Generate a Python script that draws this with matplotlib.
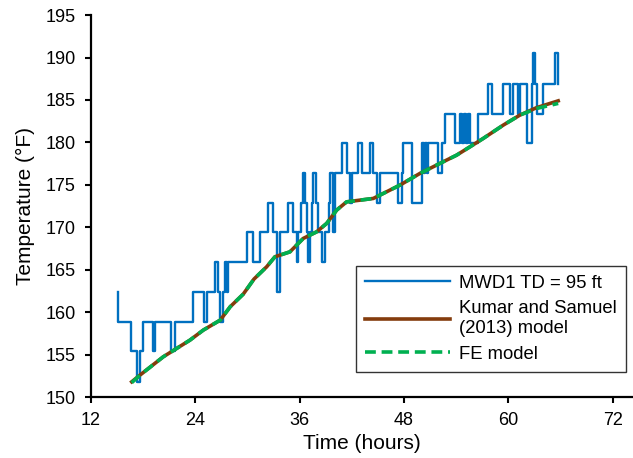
import matplotlib
matplotlib.use("Agg")
import matplotlib.pyplot as plt

plt.rcParams['font.family'] = ['Liberation Sans', 'DejaVu Sans']

# MWD1 measured temperature (step trace), time in hours, temperature in F
mwd_time = [15.12, 15.19, 16.65, 17.30, 17.68, 18.06, 19.14, 19.44, 21.24, 21.70,
            23.80, 25.03, 25.34, 26.29, 26.67, 26.87, 27.25, 27.44, 27.64, 27.82,
            29.93, 30.69, 31.46, 32.41, 32.99, 33.38, 33.76, 34.71, 35.28, 35.67,
            35.86, 36.20, 36.40, 36.63, 36.82, 37.01, 37.20, 37.43, 37.58, 37.89,
            38.15, 38.54, 38.92, 39.38, 39.50, 39.81, 39.88, 40.07, 40.84, 41.41,
            41.79, 41.99, 42.75, 43.14, 44.09, 44.47, 44.86, 45.24, 47.34, 47.73,
            47.91, 48.88, 50.02, 50.29, 50.46, 50.63, 50.81, 51.90, 52.32, 52.70,
            53.85, 54.42, 54.65, 54.88, 55.11, 55.34, 55.57, 56.52, 57.67, 58.06,
            59.39, 60.16, 60.54, 61.12, 61.31, 62.08, 62.65, 62.84, 63.03, 63.23,
            63.99, 65.33, 65.71]
mwd_temp = [162.4, 158.9, 155.4, 151.8, 155.4, 158.9, 155.4, 158.9, 155.4, 158.9,
            162.4, 158.9, 162.4, 165.9, 162.4, 158.9, 162.4, 165.9, 162.4, 165.9,
            169.4, 165.9, 169.4, 172.9, 169.4, 162.4, 169.4, 172.9, 169.4, 165.9,
            169.4, 172.9, 176.4, 172.9, 169.4, 165.9, 169.4, 172.9, 176.4, 172.9,
            169.4, 165.9, 169.4, 172.9, 176.4, 172.9, 169.4, 176.4, 179.9, 176.4,
            172.9, 176.4, 179.9, 176.4, 179.9, 176.4, 172.9, 176.4, 172.9, 176.4,
            179.9, 172.9, 179.9, 176.4, 179.9, 176.4, 179.9, 176.4, 179.9, 183.4,
            179.9, 183.4, 179.9, 183.4, 179.9, 183.4, 179.9, 183.4, 186.9, 183.4,
            186.9, 183.4, 186.9, 183.4, 186.9, 179.9, 186.9, 190.5, 186.9, 183.4,
            186.9, 190.5, 186.9]

# Kumar and Samuel (2013) model
ks_time = [16.73, 17.68, 20.36, 23.42, 24.95, 26.90, 28.04, 29.54, 30.77, 32.23,
           33.18, 34.90, 36.43, 37.97, 39.12, 40.27, 41.41, 44.47, 46.38, 47.53,
           49.83, 52.13, 54.04, 55.57, 57.10, 59.40, 61.31, 63.23, 65.71]
ks_temp = [151.80, 152.59, 154.75, 156.71, 157.89, 159.07, 160.64, 162.13, 163.90, 165.35,
           166.53, 167.11, 168.69, 169.47, 170.46, 172.03, 173.00, 173.40, 174.38, 174.97,
           176.35, 177.53, 178.50, 179.48, 180.47, 182.04, 183.22, 184.10, 184.90]

# FE model
fe_time = [16.73, 17.68, 20.36, 23.42, 24.95, 26.90, 28.04, 29.54, 30.77, 32.23,
           33.18, 34.90, 36.43, 37.97, 39.12, 40.27, 41.41, 44.47, 46.38, 47.53,
           49.83, 52.13, 54.04, 55.57, 57.10, 59.40, 61.31, 63.23, 65.71]
fe_temp = [151.70, 152.59, 154.75, 156.71, 157.89, 159.07, 160.64, 162.13, 163.90, 165.35,
           166.53, 167.11, 168.69, 169.47, 170.46, 172.03, 173.00, 173.40, 174.38, 174.97,
           176.35, 177.53, 178.50, 179.48, 180.47, 182.04, 183.22, 184.00, 184.60]

x_ticks = [12, 24, 36, 48, 60, 72]
y_ticks = [150, 155, 160, 165, 170, 175, 180, 185, 190, 195]

fig = plt.figure(figsize=(6.33, 4.58), dpi=100)
ax = fig.add_axes([0.143, 0.133, 0.857, 0.834])

ax.step(mwd_time, mwd_temp, where='post', color='#0070C0', lw=1.7,
        label='MWD1 TD = 95 ft')
ax.plot(ks_time, ks_temp, color='#843C0C', lw=2.6,
        label='Kumar and Samuel\n(2013) model')
ax.plot(fe_time, fe_temp, color='#00B050', lw=2.6, ls=(0, (3, 1.6)),
        label='FE model')

ax.set_xlim(12, 74.3)
ax.set_ylim(150, 195)
ax.set_xticks(x_ticks)
ax.set_yticks(y_ticks)
ax.tick_params(direction='out', length=4.5, width=1.5, labelsize=13, colors='black',
               pad=6)
ax.spines['top'].set_visible(False)
ax.spines['right'].set_visible(False)
ax.spines['left'].set_linewidth(1.6)
ax.spines['bottom'].set_linewidth(1.6)

ax.set_xlabel('Time (hours)', fontsize=15, labelpad=4)
ax.set_ylabel('Temperature (°F)', fontsize=15, labelpad=8)

leg = ax.legend(loc='lower right', bbox_to_anchor=(0.987, 0.066), borderaxespad=0,
                fontsize=13.3, frameon=True, fancybox=False, handlelength=4.6,
                labelspacing=0.45, borderpad=0.5, handletextpad=0.5)
for txt in leg.get_texts():
    txt.set_linespacing(1.25)
leg.get_frame().set_edgecolor('black')
leg.get_frame().set_linewidth(1.0)

fig.savefig('out.png', dpi=100)
